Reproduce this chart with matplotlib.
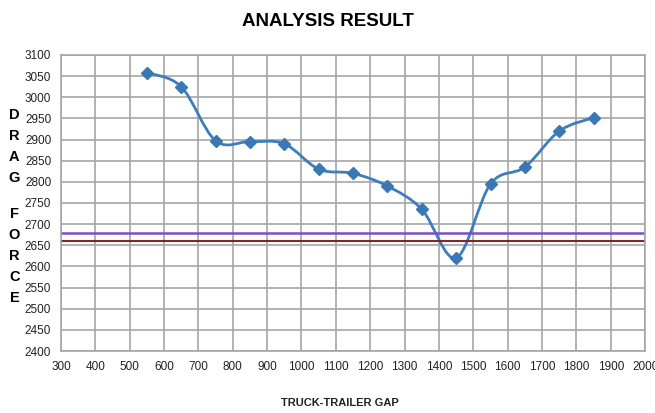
import matplotlib.pyplot as plt
import numpy as np
from matplotlib.path import Path
from matplotlib.patches import PathPatch

gap = [550, 650, 750, 850, 950, 1050, 1150, 1250, 1350, 1450, 1550, 1650, 1750, 1850]
drag = [3058, 3025, 2897, 2895, 2890, 2830, 2820, 2790, 2735, 2620, 2795, 2835, 2920, 2952]
purple_level = 2680
red_level = 2660

x_ticks = list(range(300, 2001, 100))
y_ticks = list(range(2400, 3101, 50))

plt.rcParams['font.family'] = ['Liberation Sans', 'DejaVu Sans']

fig = plt.figure(figsize=(6.55, 4.13), dpi=100)
ax = fig.add_axes([0.093, 0.150, 0.892, 0.717])

ax.set_xlim(300, 2000)
ax.set_ylim(2400, 3100)
ax.set_xticks(x_ticks)
ax.set_yticks(y_ticks)
ax.grid(True, color='#a6a6a6', linewidth=1.2)
ax.set_axisbelow(True)
for s in ax.spines.values():
    s.set_color('#a6a6a6')
    s.set_linewidth(1.2)
ax.tick_params(length=0, labelsize=8.5, pad=7, colors='#222222')

ax.axhline(purple_level, color='#7b4fc4', linewidth=1.8)
ax.axhline(red_level, color='#7a2a2a', linewidth=1.5)

# smoothed line (Catmull-Rom as bezier segments)
pts = np.column_stack([gap, drag]).astype(float)
verts = [tuple(pts[0])]
codes = [Path.MOVETO]
t = 1 / 6
for i in range(len(pts) - 1):
    p0 = pts[i - 1] if i > 0 else pts[i]
    p1 = pts[i]
    p2 = pts[i + 1]
    p3 = pts[i + 2] if i + 2 < len(pts) else pts[i + 1]
    c1 = p1 + (p2 - p0) * t
    c2 = p2 - (p3 - p1) * t
    verts += [tuple(c1), tuple(c2), tuple(p2)]
    codes += [Path.CURVE4] * 3
ax.add_patch(PathPatch(Path(verts, codes), facecolor='none', edgecolor='#3d7dbd', linewidth=2))
ax.plot(gap, drag, linestyle='none', marker='D', markersize=6, color='#3a78b5')

fig.text(0.500, 0.948, 'ANALYSIS RESULT', ha='center', va='center', fontsize=13.5, fontweight='bold')
fig.text(0.519, 0.024, 'TRUCK-TRAILER GAP', ha='center', va='center', fontsize=8, fontweight='bold', color='#222222')
for i, ch in enumerate('DRAG'):
    fig.text(0.022, 1 - (115 + i * 21) / 413, ch, ha='center', va='center', fontsize=10.5, fontweight='bold')
for i, ch in enumerate('FORCE'):
    fig.text(0.022, 1 - (214 + i * 21) / 413, ch, ha='center', va='center', fontsize=10.5, fontweight='bold')

fig.savefig('out.png', dpi=100)
